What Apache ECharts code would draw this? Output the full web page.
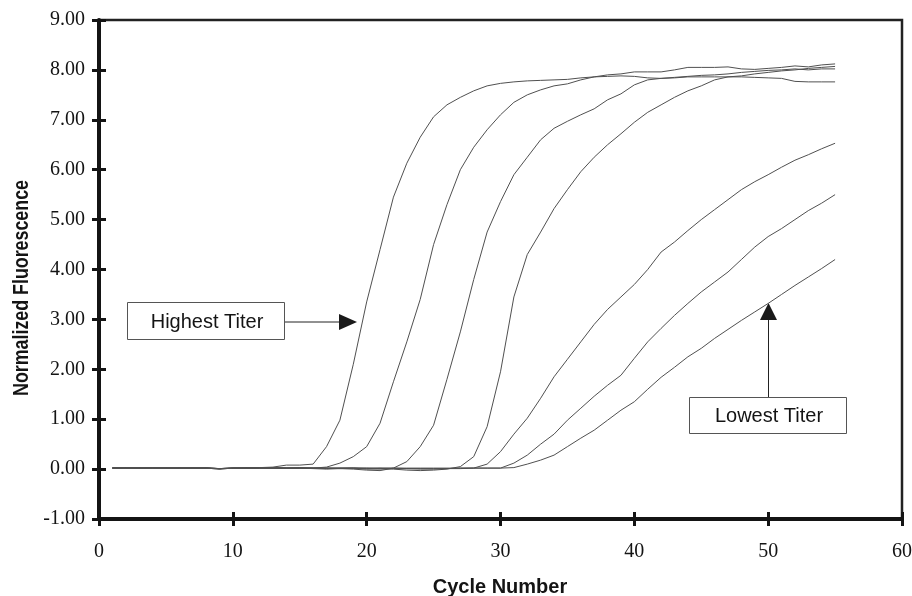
<!DOCTYPE html>
<html>
<head>
<meta charset="utf-8">
<script src="https://cdn.jsdelivr.net/npm/echarts@6/dist/echarts.min.js"></script>
<style>
html,body{margin:0;padding:0;background:#fff;}
#chart{width:912px;height:596px;}
</style>
</head>
<body>
<div id="chart"></div>
<script>
// Cycle numbers (x values)
const cycles = [1,2,3,4,5,6,7,8,9,10,11,12,13,14,15,16,17,18,19,20,21,22,23,24,25,26,27,28,29,30,31,32,33,34,35,36,37,38,39,40,41,42,43,44,45,46,47,48,49,50,51,52,53,54,55];

// Normalized fluorescence per dilution (highest titer first)
const curve1 = [0.03,0.03,0.02,0.03,0.02,0.02,0.03,0.02,0.00,0.02,0.03,0.03,0.04,0.08,0.08,0.10,0.45,0.98,2.10,3.35,4.40,5.45,6.13,6.65,7.06,7.30,7.45,7.58,7.68,7.73,7.76,7.78,7.79,7.80,7.81,7.84,7.86,7.87,7.88,7.87,7.84,7.83,7.84,7.86,7.86,7.86,7.86,7.86,7.85,7.84,7.83,7.77,7.76,7.76,7.76];
const curve2 = [0.02,0.02,0.03,0.02,0.02,0.03,0.02,0.02,0.01,0.02,0.02,0.03,0.02,0.02,0.03,0.02,0.04,0.12,0.25,0.45,0.92,1.75,2.55,3.40,4.50,5.30,6.00,6.45,6.80,7.10,7.35,7.50,7.60,7.68,7.72,7.80,7.86,7.90,7.92,7.96,7.96,7.96,8.00,8.05,8.05,8.05,8.06,8.02,8.01,8.03,8.05,8.08,8.06,8.10,8.12];
const curve3 = [0.02,0.03,0.02,0.02,0.03,0.02,0.02,0.03,0.01,0.02,0.02,0.02,0.03,0.02,0.02,0.01,0.00,0.01,0.00,-0.02,-0.03,0.02,0.15,0.45,0.88,1.80,2.75,3.80,4.75,5.36,5.90,6.25,6.60,6.83,6.97,7.10,7.22,7.40,7.52,7.70,7.80,7.83,7.85,7.87,7.89,7.90,7.92,7.95,7.97,7.99,8.00,8.02,8.00,8.02,8.02];
const curve4 = [0.02,0.02,0.02,0.03,0.02,0.02,0.02,0.02,0.00,0.02,0.02,0.02,0.02,0.02,0.02,0.02,0.01,0.02,0.02,0.00,0.00,0.00,-0.02,-0.03,-0.02,0.00,0.05,0.25,0.85,1.95,3.45,4.30,4.75,5.22,5.60,5.96,6.25,6.50,6.72,6.95,7.15,7.30,7.45,7.58,7.68,7.80,7.86,7.88,7.92,7.95,7.98,8.00,8.03,8.05,8.07];
const curve5 = [0.02,0.02,0.02,0.02,0.02,0.02,0.02,0.02,0.01,0.02,0.02,0.02,0.02,0.02,0.02,0.02,0.02,0.01,0.02,0.02,0.01,0.02,0.01,0.00,0.00,0.01,0.01,0.02,0.10,0.35,0.70,1.02,1.42,1.85,2.20,2.55,2.90,3.20,3.45,3.70,4.00,4.35,4.55,4.78,5.00,5.20,5.40,5.60,5.76,5.90,6.05,6.19,6.30,6.42,6.53];
const curve6 = [0.02,0.02,0.02,0.02,0.02,0.02,0.02,0.02,0.01,0.02,0.02,0.02,0.02,0.02,0.02,0.02,0.02,0.02,0.02,0.01,0.02,0.01,0.01,0.01,0.01,0.01,0.02,0.02,0.02,0.02,0.12,0.28,0.50,0.70,0.98,1.22,1.46,1.68,1.88,2.22,2.55,2.82,3.08,3.32,3.55,3.75,3.95,4.20,4.45,4.66,4.82,5.00,5.18,5.33,5.50];
const curve7 = [0.02,0.02,0.02,0.02,0.02,0.02,0.02,0.02,0.01,0.02,0.02,0.02,0.02,0.02,0.02,0.02,0.02,0.02,0.02,0.02,0.02,0.02,0.02,0.02,0.02,0.02,0.02,0.02,0.02,0.02,0.03,0.10,0.18,0.28,0.45,0.62,0.78,0.98,1.18,1.35,1.60,1.84,2.04,2.25,2.42,2.62,2.80,2.98,3.15,3.32,3.50,3.68,3.85,4.02,4.20];

const curves = [curve1, curve2, curve3, curve4, curve5, curve6, curve7];

// Axis ranges / tick labels
const xMin = 0, xMax = 60, xStep = 10;
const yMin = -1, yMax = 9, yStep = 1;
const xTitle = 'Cycle Number';
const yTitle = 'Normalized Fluorescence';
const highLabel = 'Highest Titer';
const lowLabel = 'Lowest Titer';

const chart = echarts.init(document.getElementById('chart'), null, {renderer: 'canvas'});

const serifFont = '"Liberation Serif","Times New Roman",serif';
const sansFont = '"Liberation Sans",Arial,sans-serif';
const ink = '#141414';

const series = curves.map((arr, i) => ({
  type: 'line',
  name: 'c' + (i + 1),
  xAxisIndex: 0,
  yAxisIndex: 0,
  data: cycles.map((c, k) => [c, arr[k]]),
  showSymbol: false,
  symbol: 'none',
  lineStyle: {color: '#505050', width: 1},
  z: 2,
  silent: true
}));

const option = {
  animation: false,
  backgroundColor: '#ffffff',
  grid: {
    left: 99, right: 10, top: 20, bottom: 77,
    containLabel: false,
    outerBoundsMode: 'none',
    show: true, borderColor: '#222', borderWidth: 2.5, backgroundColor: 'transparent'
  },
  xAxis: [
    {
      type: 'value', position: 'bottom', min: xMin, max: xMax, interval: xStep,
      axisLine: {show: true, onZero: false, lineStyle: {color: ink, width: 4}},
      axisTick: {show: true, inside: false, length: 7, lineStyle: {color: ink, width: 3}},
      axisLabel: {show: true, margin: 23, fontFamily: serifFont, fontSize: 20, color: ink,
        showMinLabel: true, showMaxLabel: true, hideOverlap: false},
      splitLine: {show: false}
    },
    {
      type: 'value', position: 'bottom', min: xMin, max: xMax, interval: xStep,
      axisLine: {show: false, onZero: false},
      axisTick: {show: true, inside: true, length: 7, lineStyle: {color: ink, width: 3}},
      axisLabel: {show: false},
      splitLine: {show: false}
    }
  ],
  yAxis: [
    {
      type: 'value', position: 'left', min: yMin, max: yMax, interval: yStep,
      axisLine: {show: true, onZero: false, lineStyle: {color: ink, width: 4}},
      axisTick: {show: true, inside: false, length: 7, lineStyle: {color: ink, width: 3}},
      axisLabel: {show: true, margin: 14, fontFamily: serifFont, fontSize: 20, color: ink,
        formatter: v => v.toFixed(2), showMinLabel: true, showMaxLabel: true, hideOverlap: false},
      splitLine: {show: false}
    },
    {
      type: 'value', position: 'left', min: yMin, max: yMax, interval: yStep,
      axisLine: {show: false, onZero: false},
      axisTick: {show: true, inside: true, length: 7, lineStyle: {color: ink, width: 3}},
      axisLabel: {show: false},
      splitLine: {show: false}
    }
  ],
  series: series,
  graphic: [
    // axis titles
    {type: 'text', silent: true, x: 500, y: 587,
      style: {text: xTitle, font: 'bold 20px ' + sansFont, fill: ink, align: 'center', verticalAlign: 'middle'}},
    {type: 'text', silent: true, x: 22, y: 288, rotation: Math.PI / 2, scaleX: 0.81,
      style: {text: yTitle, font: 'bold 22px ' + sansFont,
        fill: ink, align: 'center', verticalAlign: 'middle'}},
    // Highest Titer annotation
    {type: 'rect', silent: true, shape: {x: 127.5, y: 302.5, width: 157, height: 37},
      style: {fill: '#fff', stroke: '#555', lineWidth: 1}},
    {type: 'text', silent: true, x: 207, y: 322,
      style: {text: highLabel, font: '20px ' + sansFont, fill: ink, align: 'center', verticalAlign: 'middle'}},
    {type: 'line', silent: true, shape: {x1: 285, y1: 322, x2: 342, y2: 322},
      style: {stroke: '#222', lineWidth: 1}},
    {type: 'polygon', silent: true, shape: {points: [[339, 314], [357, 322], [339, 330]]},
      style: {fill: '#1a1a1a'}},
    // Lowest Titer annotation
    {type: 'rect', silent: true, shape: {x: 689.5, y: 397.5, width: 157, height: 36},
      style: {fill: '#fff', stroke: '#555', lineWidth: 1}},
    {type: 'text', silent: true, x: 769, y: 416,
      style: {text: lowLabel, font: '20px ' + sansFont, fill: ink, align: 'center', verticalAlign: 'middle'}},
    {type: 'line', silent: true, shape: {x1: 768.5, y1: 397, x2: 768.5, y2: 318},
      style: {stroke: '#222', lineWidth: 1}},
    {type: 'polygon', silent: true, shape: {points: [[760, 320], [768.5, 303], [777, 320]]},
      style: {fill: '#1a1a1a'}}
  ]
};

chart.setOption(option);
</script>
</body>
</html>
